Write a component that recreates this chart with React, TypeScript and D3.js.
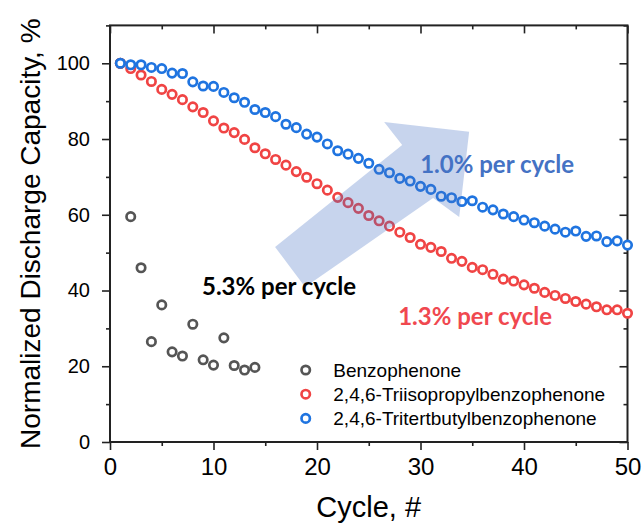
import React, { useEffect, useRef } from 'react';
import * as d3 from 'd3';

// normalized discharge capacity (%) per cycle
const benzophenone = [100, 59.5, 46.0, 26.5, 36.2, 23.8, 22.7, 31.1, 21.7, 20.3, 27.5, 20.2, 19.0, 19.7];
const triisopropyl = [
  100, 98.6, 96.9, 95.2, 93.1, 91.8, 90.4, 88.5, 87.0, 84.8,
  82.9, 81.7, 79.9, 77.7, 76.1, 74.6, 73.1, 71.4, 69.9, 68.2,
  66.5, 64.6, 63.2, 61.7, 59.8, 58.4, 57.0, 55.4, 54.0, 52.2,
  51.4, 50.3, 48.5, 47.7, 46.1, 45.5, 44.3, 43.0, 42.5, 41.5,
  40.6, 39.5, 38.7, 37.9, 37.1, 36.4, 35.7, 34.9, 34.9, 34.0,
];
const tritertbutyl = [
  100, 99.6, 99.6, 98.9, 98.6, 97.4, 97.3, 95.1, 94.0, 93.9,
  92.3, 90.9, 89.7, 87.8, 87.0, 85.9, 83.9, 83.0, 81.3, 80.5,
  78.7, 76.9, 76.0, 74.9, 73.6, 72.0, 71.1, 69.6, 68.9, 67.5,
  66.7, 64.9, 64.5, 63.5, 63.7, 62.0, 61.3, 60.2, 59.5, 58.6,
  57.9, 57.0, 56.2, 55.4, 55.7, 54.3, 54.4, 52.9, 53.1, 52.0,
];

const seriesNames = ['Benzophenone', '2,4,6-Triisopropylbenzophenone', '2,4,6-Tritertbutylbenzophenone'];
const seriesColors = ['#555555', '#f04444', '#1f74e0'];

const xTicks = [0, 10, 20, 30, 40, 50];
const xMinor = [5, 15, 25, 35, 45];
const yTicks = [0, 20, 40, 60, 80, 100];
const yMinor = [10, 30, 50, 70, 90, 110];

// trend arrow outline, in data units (cycle, %)
const arrowPts: [number, number][] = [
  [15.95, 51.5], [28.23, 78.4], [26.49, 84.5], [34.7, 81.9],
  [33.74, 59.4], [31.22, 64.4], [18.85, 40.9],
];

const notes = [
  { text: '1.0% per cycle', x: 29.97, y: 71.0, color: '#4472c4' },
  { text: '1.3% per cycle', x: 27.84, y: 30.9, color: '#f0484f' },
  { text: '5.3% per cycle', x: 8.89, y: 38.8, color: '#000000' },
];

const W = 642;
const H = 524;

export default function App() {
  const svgRef = useRef<SVGSVGElement>(null);

  useEffect(() => {
    const svg = d3.select(svgRef.current);
    svg.selectAll('*').remove();

    const x = d3.scaleLinear().domain([0, 50]).range([110, 627.5]);
    const y = d3.scaleLinear().domain([0, 110]).range([442, 25.4]);
    const axisColor = '#222';
    const sans = '"Liberation Sans", Arial, sans-serif';

    const ax = svg.append('g');
    const styleAxis = (g: any, size: number) => {
      g.select('.domain').remove();
      g.selectAll('line').attr('stroke', axisColor).attr('stroke-width', 1.6);
      g.selectAll('text').attr('fill', '#000').style('font-family', sans).style('font-size', `${size}px`);
    };

    ax.append('g')
      .attr('transform', 'translate(0,442)')
      .call(d3.axisBottom(x).tickValues(xTicks).tickSize(8).tickPadding(8))
      .call((g) => styleAxis(g, 24));
    ax.append('g')
      .attr('transform', 'translate(0,442)')
      .call(d3.axisBottom(x).tickValues(xMinor).tickSize(4).tickFormat(() => ''))
      .call((g) => styleAxis(g, 24));
    ax.append('g')
      .attr('transform', 'translate(110,0)')
      .call(d3.axisLeft(y).tickValues(yTicks).tickSize(8).tickPadding(12))
      .call((g) => styleAxis(g, 20));
    ax.append('g')
      .attr('transform', 'translate(110,0)')
      .call(d3.axisLeft(y).tickValues(yMinor).tickSize(4).tickFormat(() => ''))
      .call((g) => styleAxis(g, 20));
    // mirrored ticks, pointing inward
    ax.append('g')
      .attr('transform', `translate(0,${y(110)})`)
      .call(d3.axisTop(x).tickValues(xTicks).tickSize(-8).tickFormat(() => ''))
      .call((g) => styleAxis(g, 20));
    ax.append('g')
      .attr('transform', `translate(0,${y(110)})`)
      .call(d3.axisTop(x).tickValues(xMinor).tickSize(-4).tickFormat(() => ''))
      .call((g) => styleAxis(g, 20));
    ax.append('g')
      .attr('transform', `translate(${x(50)},0)`)
      .call(d3.axisRight(y).tickValues(yTicks).tickSize(-8).tickFormat(() => ''))
      .call((g) => styleAxis(g, 20));
    ax.append('g')
      .attr('transform', `translate(${x(50)},0)`)
      .call(d3.axisRight(y).tickValues(yMinor).tickSize(-4).tickFormat(() => ''))
      .call((g) => styleAxis(g, 20));

    svg.append('rect')
      .attr('x', x(0))
      .attr('y', y(110))
      .attr('width', x(50) - x(0))
      .attr('height', y(0) - y(110))
      .attr('fill', 'none')
      .attr('stroke', axisColor)
      .attr('stroke-width', 2);

    // axis titles
    svg.append('text')
      .attr('x', (x(0) + x(50)) / 2)
      .attr('y', 517)
      .attr('text-anchor', 'middle')
      .style('font-family', sans)
      .style('font-size', '29px')
      .text('Cycle, #');
    svg.append('text')
      .attr('transform', `translate(40,${(y(0) + y(110)) / 2}) rotate(-90)`)
      .attr('text-anchor', 'middle')
      .style('font-family', sans)
      .style('font-size', '28px')
      .text('Normalized Discharge Capacity, %');

    // markers
    [benzophenone, triisopropyl, tritertbutyl].forEach((vals, i) => {
      svg.append('g')
        .selectAll('circle')
        .data(vals)
        .join('circle')
        .attr('cx', (_, j) => x(j + 1))
        .attr('cy', (d) => y(d))
        .attr('r', 4.2)
        .attr('fill', 'white')
        .attr('stroke', seriesColors[i])
        .attr('stroke-width', 2.7);
    });

    // translucent arrow over the data
    svg.append('polygon')
      .attr('points', arrowPts.map(([a, b]) => `${x(a)},${y(b)}`).join(' '))
      .attr('fill', '#4472c4')
      .attr('fill-opacity', 0.3);

    svg.append('g')
      .selectAll('text')
      .data(notes)
      .join('text')
      .attr('x', (d) => x(d.x))
      .attr('y', (d) => y(d.y))
      .attr('fill', (d) => d.color)
      .style('font-family', 'Lato, "Open Sans", sans-serif')
      .style('font-weight', 700)
      .style('font-size', '24px')
      .text((d) => d.text);

    // legend
    const legend = svg.append('g').attr('transform', 'translate(305.7,370)');
    const rows = legend.selectAll('g').data(seriesNames).join('g')
      .attr('transform', (_, i) => `translate(0,${i * 24.2})`);
    rows.append('circle')
      .attr('r', 4.2)
      .attr('fill', 'white')
      .attr('stroke', (_, i) => seriesColors[i])
      .attr('stroke-width', 2.7);
    rows.append('text')
      .attr('x', 27.6)
      .attr('y', 6.7)
      .style('font-family', sans)
      .style('font-size', '19px')
      .text((d) => d);
  }, []);

  return (
    <div style={{ position: 'absolute', left: 0, top: 0 }}>
      <svg ref={svgRef} width={W} height={H} style={{ display: 'block', background: 'white' }} />
    </div>
  );
}
